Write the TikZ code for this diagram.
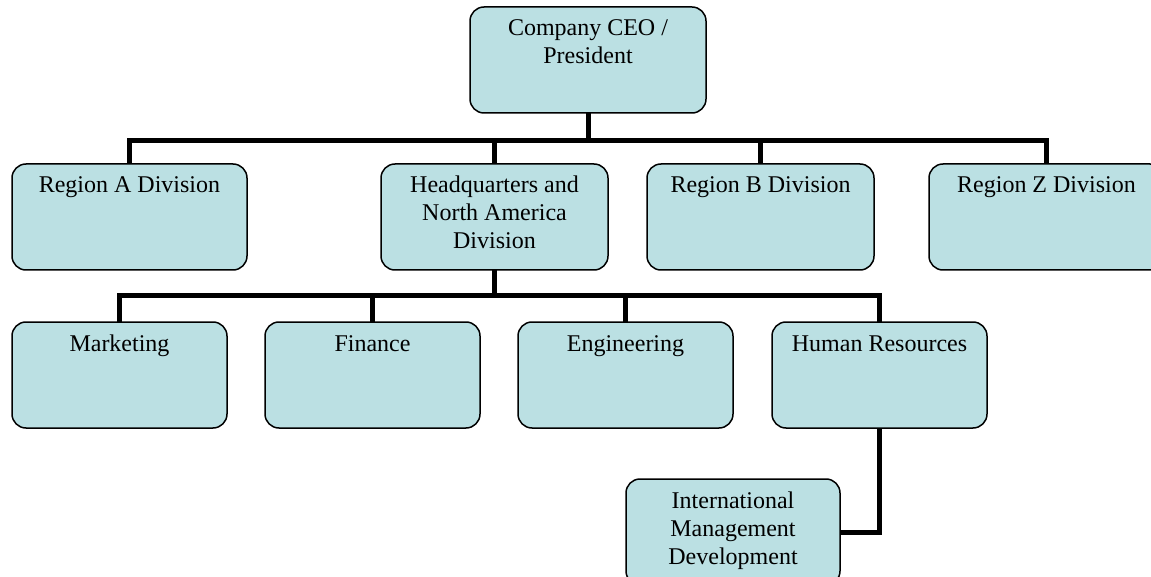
\documentclass[tikz,border=0pt]{standalone}
\usepackage{fontspec}
\setmainfont{Liberation Serif}
\usetikzlibrary{positioning}

\definecolor{unitfill}{RGB}{187,224,227}

% text sits at the top of each box
\newcommand{\unittext}[2]{\parbox[c][106pt][t]{#1}{\centering\rule{0pt}{29pt}#2}}

\begin{document}
\begin{tikzpicture}[x=1pt,y=-1pt,
        unit/.style={draw,fill=unitfill,line width=1.5pt,rounded corners=14pt,inner sep=0pt,outer sep=0pt,
                     anchor=north west,font=\fontsize{24}{28}\selectfont},
        link/.style={line width=5pt}]
        \useasboundingbox (0,0) rectangle (1151,577);

        % top of the chart
        \node[unit] (ceo) at (470,7) {\unittext{236pt}{Company CEO /\\President}};

        % divisions
        \node[unit] (regionA) at (12,164) {\unittext{235pt}{Region A Division}};
        \node[unit, right=134pt of regionA] (hq) {\unittext{227pt}{Headquarters and\\North America\\Division}};
        \node[unit, right=39pt of hq] (regionB) {\unittext{227pt}{Region B Division}};
        \node[unit, right=55pt of regionB] (regionZ) {\unittext{235pt}{Region Z Division}};

        % departments of headquarters
        \node[unit] (marketing) at (12,322) {\unittext{215pt}{Marketing}};
        \node[unit, right=38pt of marketing] (finance) {\unittext{215pt}{Finance}};
        \node[unit, right=38pt of finance] (engineering) {\unittext{215pt}{Engineering}};
        \node[unit, right=39pt of engineering] (hr) {\unittext{215pt}{Human Resources}};

        % under human resources
        \node[unit] (imd) at (626,479) {\unittext{214pt}{International\\Management\\Development}};

        \foreach \u in {regionA,hq,regionB,regionZ}
            \draw[link] (ceo.south) -- ++(0,28) -| (\u.north);

        \foreach \u in {marketing,finance,engineering,hr}
            \draw[link] (hq.south) -- ++(0,26) -| (\u.north);

        \draw[link] (hr.south) |- (imd.east);

    \end{tikzpicture}
\end{document}
